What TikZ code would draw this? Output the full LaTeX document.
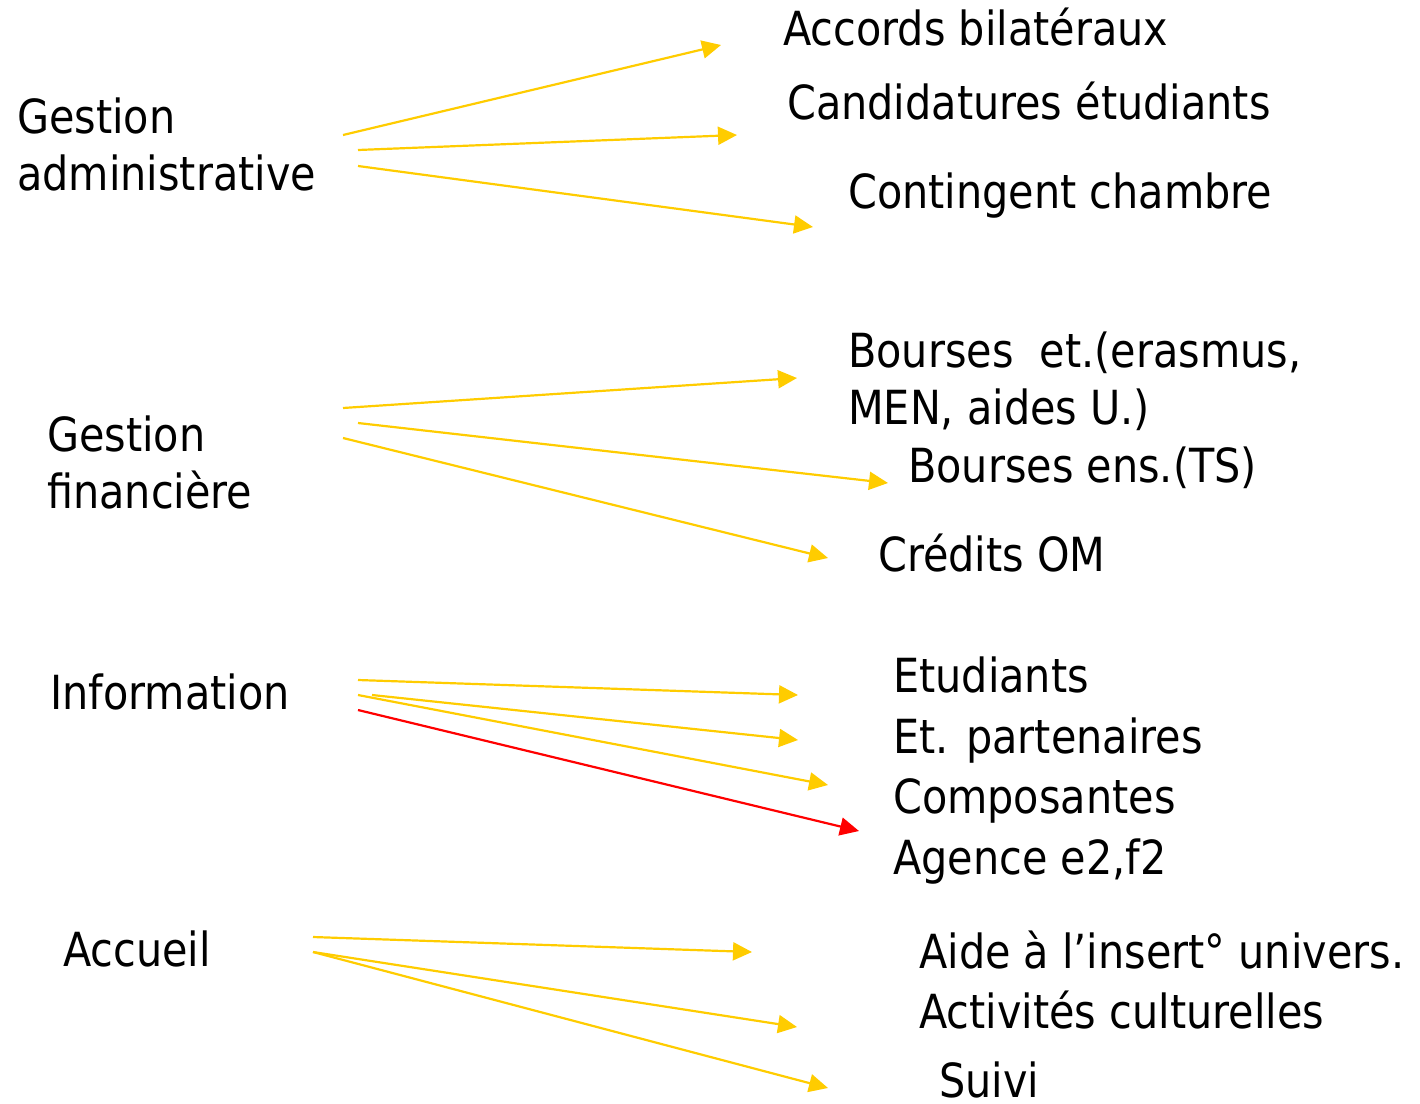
\documentclass[tikz,border=0pt]{standalone}
\usepackage{fontspec}
\setmainfont{DejaVu Sans}[FakeStretch=0.88]
\usetikzlibrary{arrows.meta}
\definecolor{arrowyellow}{HTML}{FFCC00}
\definecolor{arrowred}{HTML}{FF0000}
\tikzset{
  lbl/.style={anchor=base west, inner sep=0pt, align=left, font=\fontsize{47}{57}\selectfont},
  link/.style={draw=arrowyellow, line width=2.2pt, -{Triangle[length=19pt,width=18pt]}},
  linkred/.style={link, draw=arrowred},
}
\begin{document}
\begin{tikzpicture}[x=1pt,y=-1pt]
\useasboundingbox (0,0) rectangle (1420,1103);
% left labels (multi-line nodes: base = last line)
\node[lbl] (ga) at (17,190) {Gestion\\administrative};
\node[lbl] (gf) at (47,508) {Gestion\\financière};
\node[lbl] (inf) at (50,709) {Information};
\node[lbl] (acc) at (63,966) {Accueil};
% right labels
\node[lbl] (ab) at (783,45) {Accords bilatéraux};
\node[lbl] (ce) at (787,119) {Candidatures étudiants};
\node[lbl] (cc) at (848,208) {Contingent chambre};
\node[lbl] (be) at (848,424) {Bourses\ \ et.(erasmus,\\MEN, aides U.)};
\node[lbl] (bens) at (908,482) {Bourses ens.(TS)};
\node[lbl] (com) at (878,571) {Crédits OM};
\node[lbl] (etu) at (893,692) {Etudiants};
\node[lbl] (etp) at (893,753) {Et. partenaires};
\node[lbl] (cmp) at (893,813) {Composantes};
\node[lbl] (age) at (893,874) {Agence e2,f2};
\node[lbl] (aide) at (919,968) {Aide à l’insert° univers.};
\node[lbl] (act) at (919,1028) {Activités culturelles};
\node[lbl] (sui) at (939,1097) {Suivi};
% arrow end points
\coordinate (ga1) at (343,135); \coordinate (ab1) at (721,45);
\coordinate (ga2) at (358,150); \coordinate (ce1) at (737,135);
\coordinate (ga3) at (358,166); \coordinate (cc1) at (813,227);
\coordinate (gf1) at (343,408); \coordinate (be1) at (797,378);
\coordinate (gf2) at (358,423); \coordinate (bens1) at (888,483);
\coordinate (gf3) at (343,438); \coordinate (com1) at (828,558);
\coordinate (inf1) at (358,680); \coordinate (etu1) at (798,695);
\coordinate (inf2) at (372,695); \coordinate (etp1) at (798,740);
\coordinate (inf3) at (358,695); \coordinate (cmp1) at (828,785);
\coordinate (inf4) at (358,710); \coordinate (age1) at (859,831);
\coordinate (acc1) at (313,937); \coordinate (aide1) at (752,952);
\coordinate (acc2) at (313,952); \coordinate (act1) at (797,1027);
\coordinate (acc3) at (313,952); \coordinate (sui1) at (828,1088);
% connectors
\draw[link] (ga1) -- (ab1);
\draw[link] (ga2) -- (ce1);
\draw[link] (ga3) -- (cc1);
\draw[link] (gf1) -- (be1);
\draw[link] (gf2) -- (bens1);
\draw[link] (gf3) -- (com1);
\draw[link] (inf1) -- (etu1);
\draw[link] (inf2) -- (etp1);
\draw[link] (inf3) -- (cmp1);
\draw[linkred] (inf4) -- (age1);
\draw[link] (acc1) -- (aide1);
\draw[link] (acc2) -- (act1);
\draw[link] (acc3) -- (sui1);
\end{tikzpicture}
\end{document}
